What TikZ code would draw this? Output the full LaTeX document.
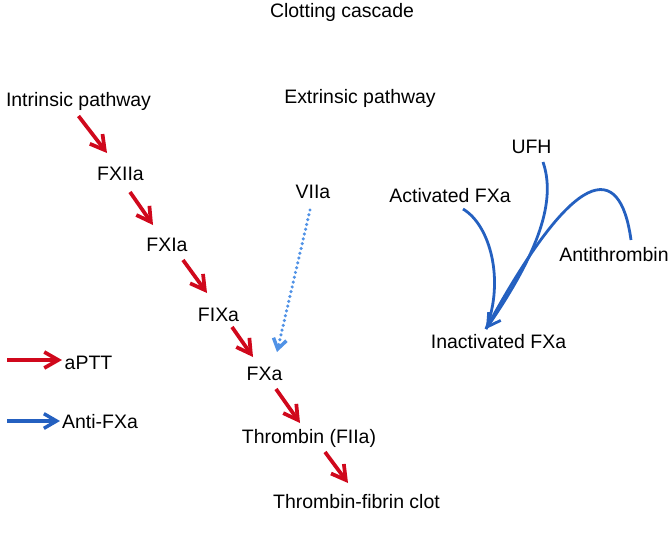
\documentclass[tikz,border=0pt]{standalone}
\usepackage{fontspec}
\setmainfont{Liberation Sans}
\usetikzlibrary{arrows.meta}
\definecolor{cascadered}{RGB}{208,8,28}
\definecolor{antiblue}{RGB}{36,96,192}
\definecolor{extrblue}{RGB}{80,146,230}

\begin{document}
\begin{tikzpicture}
[
    x=0.75pt, y=-0.75pt,
    factor/.style={font=\fontsize{14.6}{17.5}\selectfont, inner sep=0pt, anchor=base},
    redarrow/.style={cascadered, line width=2.8pt, -{Straight Barb[length=10.5pt, width=12pt]}},
    bluecurve/.style={antiblue, line width=2.1pt},
    bluetip/.style={-{Straight Barb[length=9.5pt, width=11pt]}},
    dottedarrow/.style={extrblue, line width=2.6pt, line cap=round, dash pattern=on 0pt off 3.7pt,
        -{Straight Barb[length=7.5pt, width=10pt]}},
]
\useasboundingbox (0,0) rectangle (670,547);

\node [factor] (cascade) at (342,17) {Clotting cascade};
\node [factor] (intrinsic) at (78.5,106) {Intrinsic pathway};
\node [factor] (extrinsic) at (360,103) {Extrinsic pathway};
\node [factor] (fxiia) at (120.5,180) {FXIIa};
\node [factor] (fxia) at (167,251) {FXIa};
\node [factor] (fixa) at (218.5,321) {FIXa};
\node [factor] (fxa) at (264.5,380) {FXa};
\node [factor] (thrombin) at (309,443) {Thrombin (FIIa)};
\node [factor] (clot) at (356.5,508) {Thrombin-fibrin clot};
\node [factor] (viia) at (313,198) {VIIa};
\node [factor] (ufh) at (531.5,153) {UFH};
\node [factor] (actfxa) at (450,202) {Activated FXa};
\node [factor] (antithrombin) at (614,261) {Antithrombin};
\node [factor] (inactfxa) at (498.5,348) {Inactivated FXa};
\node [factor] (aptt) at (88.5,369) {aPTT};
\node [factor] (antifxa) at (100,428) {Anti-FXa};
\coordinate (aptt-tail) at (7,360);
\coordinate (antifxa-tail) at (7,421);

\draw [redarrow] ([shift={(0,10)}]intrinsic.base) -- ([shift={(-13.5,-27)}]fxiia.base);
\draw [redarrow] ([shift={(9.5,12)}]fxiia.base) -- ([shift={(-14,-26)}]fxia.base);
\draw [redarrow] ([shift={(16,9)}]fxia.base) -- ([shift={(-11.5,-28)}]fixa.base);
\draw [redarrow] ([shift={(13.5,6)}]fixa.base) -- ([shift={(-11.5,-23)}]fxa.base);
\draw [redarrow] ([shift={(11.5,9)}]fxa.base) -- ([shift={(-9,-20)}]thrombin.base);
\draw [redarrow] ([shift={(16,9)}]thrombin.base) -- ([shift={(-8.5,-25)}]clot.base);
\draw [dottedarrow] ([shift={(-3,12)}]viia.base) -- ([shift={(12.5,-28)}]fxa.base);

\draw [bluecurve] ([shift={(13,7)}]actfxa.base) .. controls (490,225) and (505,280) .. ([shift={(-12.5,-19)}]inactfxa.base);
\draw [bluecurve] ([shift={(17,-21)}]antithrombin.base) .. controls (620,160) and (575,165) .. ([shift={(-12.5,-19)}]inactfxa.base);
\draw [bluecurve, bluetip] ([shift={(11.5,9)}]ufh.base) .. controls (556,200) and (540,250) .. ([shift={(-12.5,-19)}]inactfxa.base);

\draw [redarrow] (aptt-tail) -- ([shift={(-26.5,-9)}]aptt.base);
\draw [bluecurve, line width=2.6pt, bluetip] (antifxa-tail) -- ([shift={(-40,-7)}]antifxa.base);
\end{tikzpicture}
\end{document}
